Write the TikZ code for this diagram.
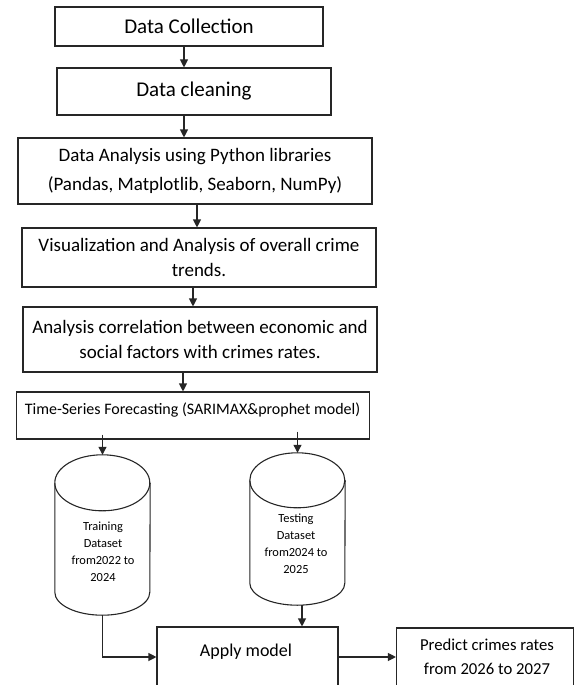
\documentclass[tikz,border=0pt]{standalone}
\usepackage{fontspec}
\setmainfont{Carlito}
\usetikzlibrary{arrows.meta,calc}

\tikzset{
  stepbox/.style={draw=black!85, line width=1.1pt, rectangle, inner sep=0pt, align=center},
  arr/.style={draw=black!85, line width=1.1pt, -{Triangle[length=8pt,width=8pt]}},
  cylbox/.style={rectangle, inner sep=0pt},
  cylline/.style={draw=black!85, line width=1.1pt},
  plain/.style={inner sep=0pt, align=center},
}

\begin{document}
\begin{tikzpicture}[x=1pt,y=-1pt]
\useasboundingbox (0,0) rectangle (575,685);
\clip (0,0) rectangle (575,685);

% main pipeline
\node[stepbox, minimum width=268pt, minimum height=39pt,
      font=\fontsize{21}{25}\selectfont] (b1) at (189,26.5) {Data Collection};
\node[stepbox, minimum width=274pt, minimum height=47pt,
      font=\fontsize{21}{25}\selectfont] (b2) at (194,91.5) {Data cleaning};
\node[stepbox, minimum width=354pt, minimum height=66pt,
      font=\fontsize{19}{29}\selectfont] (b3) at (195,171)
      {Data Analysis using Python libraries\\(Pandas, Matplotlib, Seaborn, NumPy)};
\node[stepbox, minimum width=354pt, minimum height=59pt,
      font=\fontsize{19}{25}\selectfont] (b4) at (199,257.5)
      {Visualization and Analysis of overall crime\\trends.};
\node[stepbox, minimum width=354pt, minimum height=65pt,
      font=\fontsize{19}{25}\selectfont] (b5) at (200,339.5)
      {Analysis correlation between economic and\\social factors with crimes rates.};
\node[stepbox, minimum width=353.5pt, minimum height=47pt] (b6) at (193,415.5) {};
\node[plain, font=\fontsize{16}{19}\selectfont] (b6t) at (192.5,410)
      {Time-Series Forecasting (SARIMAX\&prophet model)};

% dataset cylinders
\node[cylbox, minimum width=95pt, minimum height=160pt] (train) at (102.5,535) {};
\node[cylbox, minimum width=95pt, minimum height=152pt] (test) at (297.5,529) {};
\draw[cylline] ($(train.north west)+(0,28)$) arc[start angle=180, end angle=-180, x radius=47.5pt, y radius=28pt];
\draw[cylline] ($(train.north west)+(0,28)$) -- ($(train.south west)+(0,-23)$)
  arc[start angle=180, end angle=360, x radius=47.5pt, y radius=23pt]
  -- ($(train.north east)+(0,28)$);
\draw[cylline] ($(test.north west)+(0,27.5)$) arc[start angle=180, end angle=-180, x radius=47.5pt, y radius=27.5pt];
\draw[cylline] ($(test.north west)+(0,27.5)$) -- ($(test.south west)+(0,-22)$)
  arc[start angle=180, end angle=360, x radius=47.5pt, y radius=22pt]
  -- ($(test.north east)+(0,27.5)$);
\node[plain, font=\fontsize{12.4}{17}\selectfont] (traint) at (103,552)
      {Training\\Dataset\\from2022 to\\2024};
\node[plain, font=\fontsize{12.4}{17}\selectfont] (testt) at (296,543.5)
      {Testing\\Dataset\\from2024 to\\2025};

% model and prediction
\node[stepbox, minimum width=181pt, minimum height=80pt] (apply) at (247.5,667) {};
\node[plain, font=\fontsize{18}{22}\selectfont] (applyt) at (246,652) {Apply model};
\node[stepbox, minimum width=177pt, minimum height=80pt] (pred) at (485,668) {};
\node[plain, font=\fontsize{16.7}{24}\selectfont] (predt) at (487,657)
      {Predict crimes rates\\from 2026 to 2027};

% connectors
\draw[arr] ([xshift=-5pt]b1.south) -- ([xshift=-5pt]b1.south |- b2.north);
\draw[arr] ([xshift=-10pt]b2.south) -- ([xshift=-10pt]b2.south |- b3.north);
\draw[arr] ([xshift=2pt]b3.south) -- ([xshift=2pt]b3.south |- b4.north);
\draw[arr] ([xshift=-6pt]b4.south) -- ([xshift=-6pt]b4.south |- b5.north);
\draw[arr] ([xshift=-17pt]b5.south) -- ([xshift=-17pt]b5.south |- b6.north);
\draw[arr] ([yshift=5pt]b6.south -| train.north) -- (train.north);
\draw[arr] ([yshift=8pt]b6.south -| test.north) -- (test.north);
\draw[arr] ([xshift=4.5pt]test.south) -- ([xshift=4.5pt]test.south |- apply.north);
\draw[arr] (train.south) |- ([yshift=10pt]apply.west);
\draw[arr] ([yshift=10pt]apply.east) -- ([yshift=10pt]apply.east -| pred.west);
\end{tikzpicture}
\end{document}
